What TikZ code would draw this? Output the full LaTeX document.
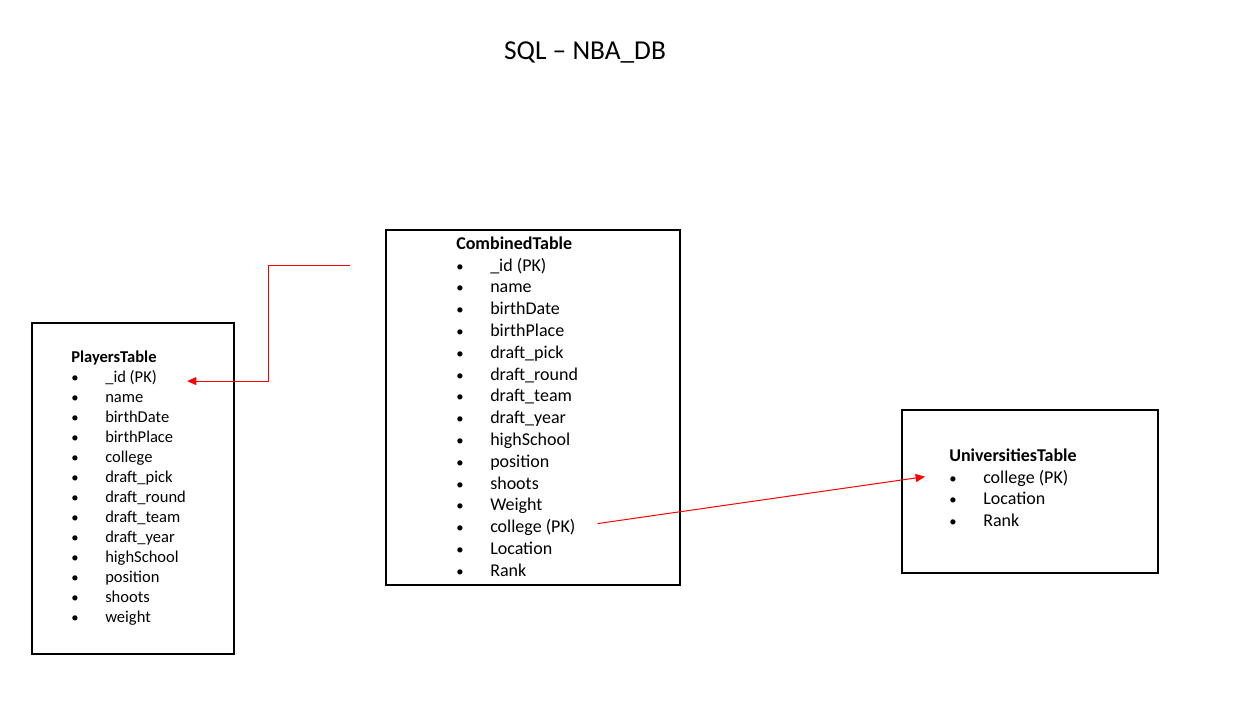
\documentclass[tikz,border=0pt]{standalone}
\usepackage{fontspec}
\setmainfont{Carlito}
\usetikzlibrary{arrows.meta,calc}

\begin{document}
\begin{tikzpicture}[x=0.75pt,y=-0.75pt]
			\tikzstyle{every node}+=[inner sep=0pt]
			\tikzstyle{tablebox}=[black,line width=1.5pt]
			\tikzstyle{prow}=[anchor=base west,font=\fontsize{12.4}{14}\selectfont]
			\tikzstyle{crow}=[anchor=base west,font=\fontsize{13.5}{16}\selectfont]
			\tikzstyle{fk}=[red,line width=0.75pt,-{Triangle[length=7pt,width=6pt]}]
			\useasboundingbox (0,0) rectangle (1247,726);
			\node [anchor=base] (title) at (585,59) {\fontsize{20.5}{24}\selectfont SQL -- NBA\_DB};
			% players
			\draw [tablebox] (32,323) rectangle (234,654);
			\node [prow,font=\fontsize{12.4}{14}\selectfont\bfseries] (players) at (71,362) {PlayersTable};
			\foreach \t [count=\i] in {\_id (PK),name,birthDate,birthPlace,college,draft\_pick,draft\_round,draft\_team,draft\_year,highSchool,position,shoots,weight} {
				\node [prow] (pb\i) at (71,{382+(\i-1)*20}) {\fontsize{11}{13}\selectfont\textbullet};
				\node [prow] (p\i) at (105,{382+(\i-1)*20}) {\t};
			}
			% combined
			\draw [tablebox] (386,230) rectangle (680,585);
			\node [crow,font=\fontsize{13.5}{16}\selectfont\bfseries] (combined) at (456,249) {CombinedTable};
			\foreach \t [count=\i] in {\_id (PK),name,birthDate,birthPlace,draft\_pick,draft\_round,draft\_team,draft\_year,highSchool,position,shoots,Weight,college (PK),Location,Rank} {
				\node [crow] (cb\i) at (456,{271+(\i-1)*21.8}) {\fontsize{11}{13}\selectfont\textbullet};
				\node [crow] (c\i) at (490,{271+(\i-1)*21.8}) {\t};
			}
			% universities
			\draw [tablebox] (902,410) rectangle (1158,573);
			\node [crow,font=\fontsize{13.5}{16}\selectfont\bfseries] (universities) at (949,461) {UniversitiesTable};
			\foreach \t [count=\i] in {college (PK),Location,Rank} {
				\node [crow] (ub\i) at (949,{483+(\i-1)*21.5}) {\fontsize{11}{13}\selectfont\textbullet};
				\node [crow] (u\i) at (983,{483+(\i-1)*21.5}) {\t};
			}
			% links
			\coordinate (cfree) at (350,265);
			\draw [fk] (cfree) -- (268,265) |- ($(p1.east)+(30,4)$);
			\draw [fk] ($(c13.east)+(22,-4)$) -- ($(ub1.west)+(-24,-3)$);
\end{tikzpicture}
\end{document}
